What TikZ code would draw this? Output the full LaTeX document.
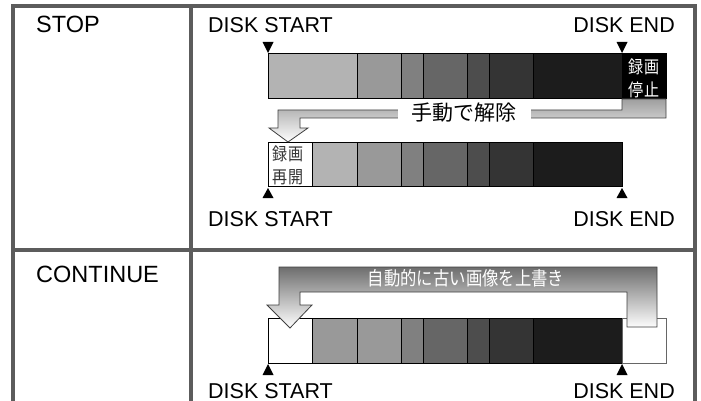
\documentclass[tikz,border=0pt]{standalone}
\usepackage{fontspec}
\setmainfont{Liberation Sans}
\newfontfamily\jp{Noto Sans CJK JP}
\newfontfamily\jpn[FakeStretch=0.86]{Noto Sans CJK JP}
\usetikzlibrary{calc}
\definecolor{frameC}{HTML}{5C5C5C}
\definecolor{c1}{HTML}{B3B3B3}
\definecolor{c2}{HTML}{999999}
\definecolor{c3}{HTML}{808080}
\definecolor{c4}{HTML}{666666}
\definecolor{c5}{HTML}{4D4D4D}
\definecolor{c6}{HTML}{343434}
\definecolor{c7}{HTML}{1C1C1C}
\definecolor{arrowline}{HTML}{404040}
\begin{document}
\begin{tikzpicture}[x=1pt,y=-1pt,
  frame/.style={draw=frameC, line width=4pt},
  seg/.style={draw=black, line width=0.8pt, minimum width=#1, inner sep=0pt, outer sep=0pt, anchor=north west},
  hi/.style={minimum height=45pt},
  lo/.style={minimum height=44pt},
  lab/.style={font=\fontsize{21.5}{21.5}\selectfont, inner sep=0pt},
  title/.style={font=\fontsize{23.5}{23.5}\selectfont, inner sep=0pt, anchor=base west},
  marker/.style={fill=black},
  cellnote/.style={font=\jpn\fontsize{17.5}{23}\selectfont, align=center, inner sep=0pt},
  bentarrow/.style={draw=arrowline, line width=0.8pt}
]
\useasboundingbox (0,0) rectangle (701,401);
\clip (0,0) rectangle (701,401);
\fill[white] (0,0) rectangle (701,401);

% frame
\draw[frame] (13,6.5) rectangle (695,430);
\draw[frame] (191,6.5) -- (191,430);
\draw[frame] (13,249.5) -- (695,249.5);

% row titles
\node[title] (stop) at (36,33) {STOP};
\node[title] (cont) at (36,282) {CONTINUE};

% ---------- STOP: upper bar ----------
\node[seg=89, hi, fill=c1] (t1) at (268,53) {};
\node[seg=44, hi, fill=c2] (t2) at (357,53) {};
\node[seg=22, hi, fill=c3] (t3) at (401,53) {};
\node[seg=44, hi, fill=c4] (t4) at (423,53) {};
\node[seg=22, hi, fill=c5] (t5) at (467,53) {};
\node[seg=44, hi, fill=c6] (t6) at (489,53) {};
\node[seg=89, hi, fill=c7] (t7) at (533,53) {};
\node[seg=44, hi, fill=black] (t8) at (622,53) {};
\begin{scope}
  \clip (t8.north west) rectangle (t8.south east);
  \node[cellnote, text=white] (t8txt) at (644,78.5) {録画\\停止};
\end{scope}

% ---------- STOP: lower bar ----------
\node[seg=44, lo, fill=white] (b1) at (268,142) {};
\node[seg=45, lo, fill=c1] (b2) at (312,142) {};
\node[seg=44, lo, fill=c2] (b3) at (357,142) {};
\node[seg=22, lo, fill=c3] (b4) at (401,142) {};
\node[seg=44, lo, fill=c4] (b5) at (423,142) {};
\node[seg=22, lo, fill=c5] (b6) at (467,142) {};
\node[seg=44, lo, fill=c6] (b7) at (489,142) {};
\node[seg=89, lo, fill=c7] (b8) at (533,142) {};
\begin{scope}
  \clip (b1.north west) rectangle (b1.south east);
  \node[cellnote, text=black!80] (b1txt) at (288,165.5) {録画\\再開};
\end{scope}

% STOP bent arrow
\path[bentarrow, top color=black!38, middle color=black!45, bottom color=white]
  (278,110) -- (622,110) -- (622,99) -- (666,99) -- (666,118) -- (300,118)
  -- (300,128) -- (308,128) -- (288,142) -- (269,128) -- (278,128) -- cycle;
\node[fill=white, inner sep=0pt, minimum width=133pt, minimum height=20pt,
      font=\jp\fontsize{21}{21}\selectfont] (manual) at (464,113) {手動で解除};

% STOP markers and labels
\fill[marker] ($(t1.north west)+(-5.5,-11)$) -- ++(11,0) -- (t1.north west) -- cycle;
\fill[marker] ($(t8.north west)+(-5.5,-11)$) -- ++(11,0) -- (t8.north west) -- cycle;
\fill[marker] ($(b1.south west)+(-5.5,12)$) -- ++(11,0) -- ($(b1.south west)+(0,2)$) -- cycle;
\fill[marker] ($(b8.south east)+(-5.5,12)$) -- ++(11,0) -- ($(b8.south east)+(0,2)$) -- cycle;
\node[lab, anchor=base west] (ds1) at (208,33) {DISK START};
\node[lab, anchor=base east] (de1) at (675,33) {DISK END};
\node[lab, anchor=base west] (ds2) at (208,226) {DISK START};
\node[lab, anchor=base east] (de2) at (675,226) {DISK END};

% ---------- CONTINUE bar ----------
\node[seg=44, hi, fill=white] (k1) at (268,318) {};
\node[seg=45, hi, fill=c2] (k2) at (312,318) {};
\node[seg=44, hi, fill=c2] (k3) at (357,318) {};
\node[seg=22, hi, fill=c3] (k4) at (401,318) {};
\node[seg=44, hi, fill=c4] (k5) at (423,318) {};
\node[seg=22, hi, fill=c5] (k6) at (467,318) {};
\node[seg=44, hi, fill=c6] (k7) at (489,318) {};
\node[seg=89, hi, fill=c7] (k8) at (533,318) {};
\node[seg=44, hi, fill=white, draw=black!60] (k9) at (622,318) {};

% CONTINUE bent arrow
\path[bentarrow, top color=black!57, bottom color=white]
  (279,267) -- (657,267) -- (657,327) -- (627,327) -- (627,292) -- (300,292)
  -- (300,305) -- (312,305) -- (290,328) -- (267,305) -- (279,305) -- cycle;
\node[text=white, inner sep=0pt, font=\jpn\fontsize{19}{19}\selectfont] (auto) at (466,278.5) {自動的に古い画像を上書き};

% CONTINUE markers and labels
\fill[marker] ($(k1.south west)+(-5.5,12)$) -- ++(11,0) -- ($(k1.south west)+(0,1)$) -- cycle;
\fill[marker] ($(k8.south east)+(-5.5,12)$) -- ++(11,0) -- ($(k8.south east)+(0,1)$) -- cycle;
\node[lab, anchor=base west] (ds3) at (208,398) {DISK START};
\node[lab, anchor=base east] (de3) at (675,398) {DISK END};
\end{tikzpicture}
\end{document}
